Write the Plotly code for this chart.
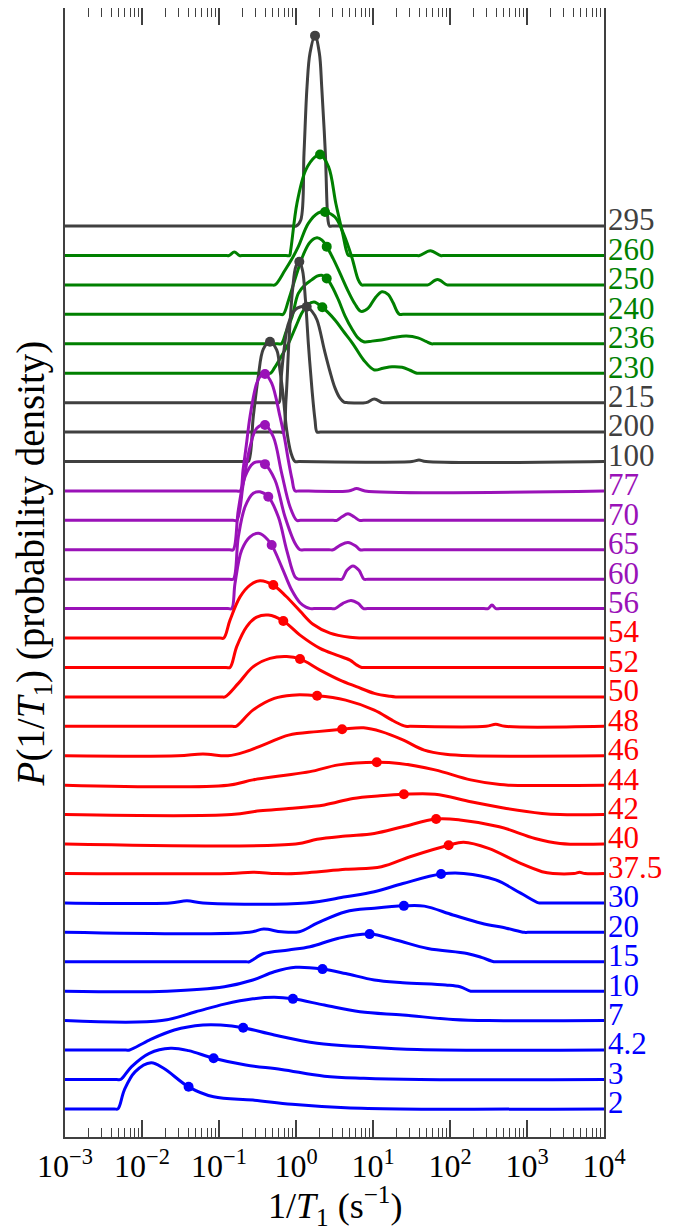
import numpy as np
import plotly.graph_objects as go

# ---- data: log10(1/T1) positions and heights P (arbitrary units) for each temperature ----
lx_295 = [-3, -0.04, 0.0, 0.061, 0.104, 0.143, 0.182, 0.247, 0.303, 0.334, 0.381, 0.416, 0.435, 0.47, 4]
h_295 = [0, 0, 0, 0.2, 2.48, 4.73, 5.88, 6.47, 5.88, 4.73, 2.48, 0.2, 0, 0, 0]

lx_260 = [-3, -0.92, -0.870, -0.801, -0.734, -0.68, -0.13, -0.084, -0.069, 0.013, 0.126, 0.247, 0.312,
          0.423, 0.519, 0.610, 0.656, 0.682, 0.73, 1.55, 1.604, 1.745, 1.877, 1.93, 4]
h_260 = [0, 0, 0, 0.12, 0, 0, 0, 0, 0.18, 1.78, 2.9, 3.35, 3.43, 3.01, 1.75, 0.7, 0.15, 0, 0, 0, 0, 0.16, 0, 0, 0]

lx_250 = [-3, -0.325, -0.273, -0.143, -0.056, 0.030, 0.160, 0.290, 0.377, 0.506, 0.614, 0.723, 0.809,
          0.853, 0.903, 1.662, 1.714, 1.838, 1.961, 2.013, 4]
h_250 = [0, 0, 0, 0.5, 0.87, 1.3, 2.09, 2.45, 2.48, 2.31, 1.76, 0.96, 0.17, 0, 0, 0, 0, 0.18, 0, 0, 0]

lx_240 = [-3, -0.214, -0.166, -0.096, 0.0, 0.091, 0.182, 0.273, 0.338, 0.399, 0.481, 0.571, 0.675,
          0.766, 0.844, 0.935, 1.026, 1.117, 1.195, 1.260, 1.312, 1.344, 1.390, 4]
h_240 = [0, 0, 0, 0.49, 1.3, 2.0, 2.45, 2.6, 2.52, 2.30, 1.9, 1.4, 0.8, 0.35, 0.1, 0.2, 0.55, 0.77,
         0.68, 0.4, 0.1, 0, 0, 0]

lx_236 = [-3, -0.240, -0.190, -0.130, -0.051, 0.030, 0.117, 0.204, 0.273, 0.334, 0.399, 0.468, 0.553,
          0.636, 0.727, 0.805, 0.878, 0.987, 1.109, 1.286, 1.434, 1.584, 1.688, 1.758, 1.805, 4]
h_236 = [0, 0, 0, 0.4, 0.92, 1.71, 2.0, 2.17, 2.3, 2.33, 2.22, 1.95, 1.48, 0.95, 0.5, 0.2, 0.07, 0.09,
         0.13, 0.22, 0.26, 0.2, 0.08, 0, 0, 0]

lx_230 = [-3, -0.377, -0.329, -0.282, -0.195, -0.096, 0.0, 0.078, 0.156, 0.234, 0.342, 0.506, 0.623,
          0.739, 0.878, 1.017, 1.130, 1.247, 1.377, 1.481, 1.571, 1.623, 4]
h_230 = [0, 0, 0, 0.17, 0.55, 1.02, 1.6, 2.05, 2.33, 2.42, 2.24, 1.81, 1.4, 1.0, 0.45, 0.11, 0.17, 0.22,
         0.2, 0.1, 0, 0, 0]

lx_215 = [-3, -0.266, -0.221, -0.195, -0.156, -0.104, -0.013, 0.052, 0.139, 0.208, 0.273, 0.368, 0.442,
          0.506, 0.571, 0.623, 0.675, 0.909, 1.017, 1.123, 1.169, 4]
h_215 = [0, 0, 0, 0.77, 1.79, 2.64, 3.15, 3.25, 3.26, 3.1, 2.81, 1.79, 1.05, 0.5, 0.15, 0.02, 0, 0, 0.12,
         0, 0, 0]

lx_200 = [-3, -0.214, -0.169, -0.130, -0.091, -0.045, 0.0, 0.043, 0.084, 0.123, 0.162, 0.208, 0.247,
          0.273, 0.318, 4]
h_200 = [0, 0, 0, 1.09, 3.13, 4.82, 5.64, 5.79, 5.5, 4.48, 2.95, 1.43, 0.41, 0, 0, 0]

lx_100 = [-3, -0.669, -0.619, -0.555, -0.490, -0.425, -0.338, -0.251, -0.208, -0.165, -0.121, -0.065,
          -0.013, 0.039, 1.506, 1.597, 1.688, 4]
h_100 = [0, 0, 0, 1.52, 2.88, 3.82, 4.07, 3.79, 3.1, 2.2, 1.07, 0.29, 0, 0, 0, 0.05, 0, 0]

lx_77 = [-3, -0.773, -0.724, -0.688, -0.643, -0.597, -0.510, -0.455, -0.403, -0.316, -0.208, -0.149,
         -0.100, -0.052, -0.013, 0.039, 0.682, 0.788, 0.896, 4]
h_77 = [0, 0, 0, 0.7, 1.6, 2.53, 3.66, 3.92, 3.97, 3.66, 2.53, 1.8, 1.05, 0.4, 0, 0, 0, 0.08, 0, 0]

lx_70 = [-3, -0.818, -0.769, -0.684, -0.597, -0.510, -0.403, -0.295, -0.186, -0.078, 0.009, 0.058,
         0.481, 0.532, 0.597, 0.675, 0.753, 0.825, 0.877, 4]
h_70 = [0, 0, 0, 1.26, 2.5, 3.13, 3.24, 2.84, 1.6, 0.46, 0, 0, 0, 0, 0.12, 0.22, 0.12, 0, 0, 0]

lx_65 = [-3, -0.864, -0.816, -0.749, -0.662, -0.555, -0.468, -0.403, -0.273, -0.143, -0.013, 0.052,
         0.104, 0.429, 0.481, 0.571, 0.675, 0.779, 0.831, 0.883, 4]
h_65 = [0, 0, 0, 1.35, 2.48, 2.94, 2.99, 2.91, 2.37, 1.12, 0.22, 0, 0, 0, 0, 0.15, 0.25, 0.12, 0, 0, 0]

lx_60 = [-3, -0.864, -0.814, -0.749, -0.662, -0.555, -0.468, -0.360, -0.230, -0.121, -0.013, 0.030,
         0.078, 0.545, 0.597, 0.662, 0.740, 0.818, 0.883, 0.935, 4]
h_60 = [0, 0, 0, 1.44, 2.46, 2.92, 2.97, 2.8, 2.12, 0.99, 0.08, 0, 0, 0, 0, 0.3, 0.45, 0.3, 0, 0, 0]

lx_56 = [-3, -0.883, -0.835, -0.792, -0.705, -0.597, -0.489, -0.403, -0.316, -0.186, -0.056, 0.052,
         0.130, 0.188, 0.234, 0.455, 0.506, 0.610, 0.714, 0.805, 0.877, 0.929, 2.44, 2.494, 2.545,
         2.597, 2.65, 4]
h_56 = [0, 0, 0, 0.86, 1.99, 2.44, 2.56, 2.44, 2.16, 1.42, 0.63, 0.2, 0.05, 0, 0, 0, 0, 0.18, 0.28,
        0.18, 0, 0, 0, 0, 0.12, 0, 0, 0]

lx_54 = [-3, -0.987, -0.938, -0.857, -0.727, -0.597, -0.468, -0.295, -0.130, 0.052, 0.221, 0.442,
         0.701, 0.896, 0.961, 4]
h_54 = [0, 0, 0, 0.61, 1.4, 1.8, 1.95, 1.8, 1.42, 0.92, 0.47, 0.17, 0.03, 0, 0, 0]

lx_52 = [-3, -0.909, -0.857, -0.770, -0.640, -0.510, -0.360, -0.165, 0.052, 0.312, 0.529, 0.701,
         0.779, 0.853, 0.909, 4]
h_52 = [0, 0, 0, 0.71, 1.39, 1.71, 1.78, 1.58, 1.1, 0.65, 0.42, 0.25, 0.1, 0, 0, 0]

lx_50 = [-3, -0.974, -0.922, -0.749, -0.555, -0.338, -0.121, 0.052, 0.312, 0.571, 0.784, 1.017,
         1.221, 1.295, 1.351, 4]
h_50 = [0, 0, 0, 0.46, 1.03, 1.31, 1.37, 1.29, 0.91, 0.57, 0.35, 0.12, 0.02, 0, 0, 0]

lx_48 = [-3, -0.831, -0.779, -0.560, -0.282, -0.052, 0.274, 0.645, 1.017, 1.248, 1.377, 1.425, 1.481,
         2.468, 2.594, 2.714, 4]
h_48 = [0, 0, 0, 0.55, 0.95, 1.06, 1.04, 0.89, 0.55, 0.21, 0.04, 0, 0, 0, 0.07, 0, 0]

lx_46 = [-3, -1.532, -1.208, -0.883, -0.653, -0.375, -0.096, 0.274, 0.599, 0.878, 1.109, 1.388, 1.666,
         1.944, 2.269, 4]
h_46 = [0, 0, 0.06, 0, 0.14, 0.42, 0.7, 0.82, 0.9, 0.95, 0.82, 0.54, 0.19, 0.05, 0, 0]

lx_44 = [-3, -0.883, -0.560, -0.190, 0.182, 0.553, 1.049, 1.341, 1.805, 2.269, 2.649, 2.779, 4]
h_44 = [0, 0, 0.18, 0.32, 0.46, 0.69, 0.78, 0.74, 0.52, 0.18, 0.02, 0, 0]

lx_42 = [-3, -0.839, -0.468, -0.096, 0.368, 0.739, 1.091, 1.401, 1.805, 2.269, 2.732, 3.196, 3.429, 4]
h_42 = [0, 0, 0.13, 0.21, 0.33, 0.55, 0.64, 0.69, 0.69, 0.44, 0.21, 0.04, 0, 0]

lx_40 = [-3, -0.004, 0.274, 0.645, 1.017, 1.388, 1.820, 2.130, 2.640, 3.104, 3.429, 4]
h_40 = [0, 0, 0.16, 0.27, 0.36, 0.59, 0.85, 0.82, 0.59, 0.19, 0.02, 0]

lx_375 = [-3, -0.857, -0.558, -0.260, -0.004, 0.645, 1.109, 1.481, 1.982, 2.177, 2.501, 2.918, 3.196,
          3.336, 3.610, 3.683, 3.753, 4]
h_375 = [0, 0, 0.04, 0, 0, 0.14, 0.23, 0.57, 0.96, 1.06, 0.85, 0.34, 0.06, 0, 0, 0.04, 0, 0]

lx_30 = [-3, -1.636, -1.416, -1.208, 0.135, 0.645, 1.017, 1.388, 1.884, 2.177, 2.594, 2.918, 3.151, 3.2, 4]
h_30 = [0, 0, 0.07, 0, 0, 0.21, 0.38, 0.66, 0.98, 1.0, 0.78, 0.33, 0, 0, 0]

lx_20 = [-3, -0.606, -0.421, -0.190, 0.043, 0.274, 0.645, 1.017, 1.401, 1.666, 2.038, 2.408, 2.732,
         2.965, 3.01, 4]
h_20 = [0, 0, 0.11, 0.02, 0.02, 0.31, 0.7, 0.82, 0.9, 0.89, 0.59, 0.31, 0.14, 0, 0, 0]

lx_15 = [-3, -0.65, -0.606, -0.421, -0.096, 0.182, 0.553, 0.956, 1.295, 1.713, 2.222, 2.408, 2.570, 2.62, 4]
h_15 = [0, 0, 0, 0.28, 0.4, 0.51, 0.8, 0.94, 0.74, 0.45, 0.28, 0.15, 0, 0, 0]

lx_10 = [-3, -1.675, -0.931, -0.560, -0.282, -0.004, 0.344, 0.645, 1.017, 1.388, 1.944, 2.130, 2.269, 2.32, 4]
h_10 = [0, 0, 0.15, 0.38, 0.66, 0.81, 0.75, 0.6, 0.38, 0.29, 0.21, 0.15, 0, 0, 0]

lx_7 = [-3, -1.743, -1.303, -0.931, -0.560, -0.282, -0.040, 0.368, 0.831, 1.388, 2.038, 2.501, 4]
h_7 = [0, 0, 0.3, 0.56, 0.74, 0.79, 0.74, 0.53, 0.3, 0.19, 0.04, 0, 0]

lx_42k = [-3, -2.21, -2.161, -1.905, -1.580, -1.209, -0.978, -0.686, -0.282, 0.274, 0.878, 1.573, 4]
h_42k = [0, 0, 0, 0.34, 0.68, 0.85, 0.85, 0.76, 0.51, 0.23, 0.11, 0.02, 0]

lx_3 = [-3, -2.33, -2.277, -2.138, -1.905, -1.628, -1.395, -1.070, -0.653, -0.190, 0.368, 0.878, 1.610, 4]
h_3 = [0, 0, 0, 0.43, 0.89, 1.06, 0.98, 0.72, 0.49, 0.34, 0.11, 0.04, 0, 0]

lx_2 = [-3, -2.36, -2.313, -2.230, -2.091, -1.882, -1.719, -1.395, -1.070, -0.560, -0.051, 0.645, 1.351, 4]
h_2 = [0, 0, 0, 0.64, 1.26, 1.57, 1.38, 0.75, 0.41, 0.3, 0.16, 0.04, 0, 0]

# labels (temperatures, K), top to bottom
labels = ["295", "260", "250", "240", "236", "230", "215", "200", "100", "77", "70", "65", "60", "56",
          "54", "52", "50", "48", "46", "44", "42", "40", "37.5", "30", "20", "15", "10", "7", "4.2", "3", "2"]
groups = ["gray", "green", "green", "green", "green", "green", "gray", "gray", "gray",
          "purple", "purple", "purple", "purple", "purple",
          "red", "red", "red", "red", "red", "red", "red", "red", "red",
          "blue", "blue", "blue", "blue", "blue", "blue", "blue", "blue"]
# marked point (log10 rate, height) for each curve
dot_lx = [0.247, 0.312, 0.377, 0.399, 0.399, 0.342, 0.139, 0.043, -0.338, -0.403, -0.403, -0.403,
          -0.360, -0.316, -0.295, -0.165, 0.052, 0.274, 0.599, 1.049, 1.401, 1.820, 1.982, 1.884,
          1.401, 0.956, 0.344, -0.040, -0.686, -1.070, -1.395]
dot_h = [6.47, 3.43, 2.48, 2.30, 2.22, 2.24, 3.26, 5.79, 4.07, 3.97, 3.24, 2.91, 2.80, 2.16, 1.80,
         1.58, 1.29, 1.04, 0.90, 0.78, 0.69, 0.85, 0.96, 0.98, 0.90, 0.94, 0.75, 0.74, 0.76, 0.72, 0.75]

curves_lx = [lx_295, lx_260, lx_250, lx_240, lx_236, lx_230, lx_215, lx_200, lx_100, lx_77, lx_70,
             lx_65, lx_60, lx_56, lx_54, lx_52, lx_50, lx_48, lx_46, lx_44, lx_42, lx_40, lx_375,
             lx_30, lx_20, lx_15, lx_10, lx_7, lx_42k, lx_3, lx_2]
curves_h = [h_295, h_260, h_250, h_240, h_236, h_230, h_215, h_200, h_100, h_77, h_70,
            h_65, h_60, h_56, h_54, h_52, h_50, h_48, h_46, h_44, h_42, h_40, h_375,
            h_30, h_20, h_15, h_10, h_7, h_42k, h_3, h_2]

COLORS = {"gray": "#404040", "green": "#008000", "purple": "#9A12B8", "red": "#FF0000", "blue": "#0000FF"}
FONT = "Liberation Serif, DejaVu Serif, Times New Roman, serif"

n = len(labels)
fig = go.Figure()
for i in range(n):
    offset = n - 1 - i
    col = COLORS[groups[i]]
    x = np.power(10.0, np.array(curves_lx[i], dtype=float))
    y = np.array(curves_h[i], dtype=float) + offset
    fig.add_trace(go.Scatter(x=x, y=y, mode="lines",
                             line=dict(color=col, width=3, shape="spline", smoothing=1.0),
                             hoverinfo="skip", showlegend=False))
    fig.add_trace(go.Scatter(x=[10 ** dot_lx[i]], y=[dot_h[i] + offset], mode="markers",
                             marker=dict(color=col, size=10), hoverinfo="skip", showlegend=False))
    fig.add_annotation(x=1, xref="paper", xanchor="left", xshift=2,
                       y=offset + 0.21, yref="y", yanchor="middle",
                       text=labels[i], showarrow=False,
                       font=dict(family=FONT, size=31, color=col))

# axis titles
fig.add_annotation(x=0.501, y=-0.0615, xref="paper", yref="paper", xanchor="center", yanchor="middle",
                   text="1/<i>T</i><sub>1</sub> (s<sup>−1</sup>)", showarrow=False,
                   font=dict(family=FONT, size=36, color="black"))
fig.add_annotation(x=-0.0594, y=0.508, xref="paper", yref="paper", xanchor="center", yanchor="middle",
                   text="<i>P</i>(1/<i>T</i><sub>1</sub>) (probability density)", showarrow=False,
                   textangle=-90, font=dict(family=FONT, size=39, color="black"))

major = [1e-3, 1e-2, 1e-1, 1, 10, 100, 1000, 1e4]
major_text = ["10<sup>−3</sup>", "10<sup>−2</sup>", "10<sup>−1</sup>", "10<sup>0</sup>",
              "10<sup>1</sup>", "10<sup>2</sup>", "10<sup>3</sup>", "10<sup>4</sup>"]
minor_vals = [m * 10.0 ** e for e in range(-3, 4) for m in range(2, 10)]

fig.update_xaxes(type="log", range=[-3, 4], showline=True, linecolor="#404040", linewidth=1.5,
                 mirror="allticks", ticks="inside", ticklen=17, tickwidth=1.5, tickcolor="#404040",
                 tickmode="array", tickvals=major, ticktext=major_text,
                 tickfont=dict(family=FONT, size=32, color="black"),
                 minor=dict(ticks="inside", ticklen=9, tickwidth=1.2, tickcolor="#404040",
                            tickmode="array", tickvals=minor_vals),
                 showgrid=False, zeroline=False)
fig.update_yaxes(range=[-0.955, 37.41], showline=True, linecolor="#404040", linewidth=1.5, mirror=True,
                 ticks="", showticklabels=False, showgrid=False, zeroline=False)
fig.update_layout(width=681, height=1222, margin=dict(l=57, r=85, t=0, b=93, autoexpand=False),
                  plot_bgcolor="white", paper_bgcolor="white")
fig.write_html("out.html")
